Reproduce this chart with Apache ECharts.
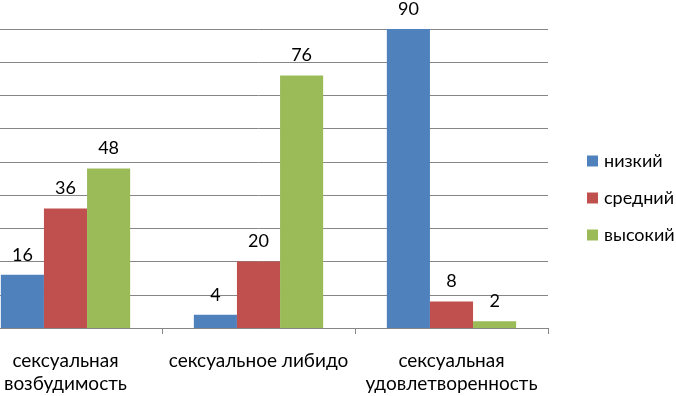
<!DOCTYPE html>
<html><head><meta charset="utf-8">
<script src="https://cdn.jsdelivr.net/npm/echarts@6/dist/echarts.min.js"></script>
<style>html,body{margin:0;padding:0;background:#fff;overflow:hidden;width:676px;height:396px}#c{position:absolute;left:-31px;top:0;width:707px;height:396px}</style>
</head><body><div id="c"></div>
<script>
const categories = ['сексуальная\nвозбудимость', 'сексуальное либидо', 'сексуальная\nудовлетворенность'];
const seriesNames = ['низкий', 'средний', 'высокий'];
const low = [16, 4, 90];
const mid = [36, 20, 8];
const high = [48, 76, 2];
const colors = ['#4F81BD', '#C0504D', '#9BBB59'];
const font = 'Lato, "Open Sans", sans-serif';
const chart = echarts.init(document.getElementById('c'));
const mk = (name, data, color) => ({
  name, type: 'bar', data, barGap: '0%', barCategoryGap: '33%',
  itemStyle: { color },
  label: { show: true, position: 'top', distance: 11, color: '#000', fontSize: 18, fontFamily: font }
});
chart.setOption({
  animation: false,
  grid: { left: 0, right: 128, top: 29, bottom: 68, containLabel: false },
  legend: {
    orient: 'vertical', left: 613, top: 147, itemWidth: 11, itemHeight: 11, itemGap: 19,
    icon: 'rect', data: seriesNames,
    textStyle: { fontSize: 18, lineHeight: 18, fontFamily: font, color: '#000', padding: [0, 0, 0, 1] }
  },
  xAxis: {
    type: 'category', data: categories,
    axisLine: { lineStyle: { color: '#868686', width: 1 } },
    axisTick: { show: true, length: 6, interval: 0, lineStyle: { color: '#868686' } },
    axisLabel: { interval: 0, fontSize: 19, fontFamily: font, color: '#000', margin: 21, lineHeight: 23 }
  },
  yAxis: {
    type: 'value', min: 0, max: 90, interval: 10,
    axisLine: { show: false }, axisTick: { show: false }, axisLabel: { show: false },
    splitLine: { lineStyle: { color: '#868686', width: 1 } }
  },
  series: [mk(seriesNames[0], low, colors[0]), mk(seriesNames[1], mid, colors[1]), mk(seriesNames[2], high, colors[2])]
});
</script></body></html>
